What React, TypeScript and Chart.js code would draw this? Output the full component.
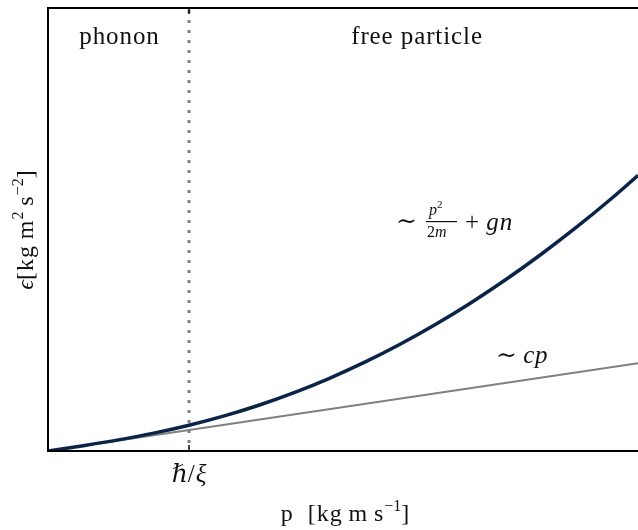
import React, { useEffect, useRef } from 'react';
import { Chart, registerables } from 'chart.js';

Chart.register(...registerables);

// Momentum samples (in units of ħ/ξ) and the Bogoliubov dispersion ε(p)
const momentum = [0, 0.25, 0.5, 0.75, 1.0, 1.25, 1.5, 1.75, 2.0, 2.25, 2.5, 2.75, 3.0, 3.25, 3.5, 3.75, 4.0, 4.184];
const bogoliubovEnergy = [0, 0.254, 0.531, 0.85, 1.227, 1.672, 2.192, 2.793, 3.476, 4.243, 5.097, 6.037, 7.065, 8.18, 9.383, 10.67, 12.05, 13.13];

// Linear phonon branch ε ≈ c p
const phononMomentum = [0, 4.184];
const phononEnergy = [0, 4.184];

// Crossover momentum ħ/ξ
const healingMomentum = 1;
const xTickValues = [1];
const xTickLabels = ['ℏ/ξ'];

const pMax = 4.184;
const epsMax = 21.1;

const SERIF = '"Liberation Serif", "DejaVu Serif", serif';
const roman = (s: number) => `${s}px ${SERIF}`;
const italic = (s: number) => `italic ${s}px ${SERIF}`;
const THIN = '\u2009';

type Run = { text: string; font: string; dy?: number; ls?: number };

function setRun(ctx: any, r: Run) {
  ctx.font = r.font;
  ctx.letterSpacing = `${r.ls || 0}px`;
}

function runsWidth(ctx: CanvasRenderingContext2D, runs: Run[]) {
  let w = 0;
  for (const r of runs) {
    setRun(ctx, r);
    w += ctx.measureText(r.text).width;
  }
  return w;
}

function drawRuns(ctx: CanvasRenderingContext2D, x: number, y: number, runs: Run[], align: 'left' | 'center' = 'left') {
  let cx = align === 'center' ? x - runsWidth(ctx, runs) / 2 : x;
  ctx.textAlign = 'left';
  ctx.textBaseline = 'alphabetic';
  for (const r of runs) {
    setRun(ctx, r);
    ctx.fillText(r.text, cx, y + (r.dy || 0));
    cx += ctx.measureText(r.text).width;
  }
  (ctx as any).letterSpacing = '0px';
}

const decorations = {
  id: 'dispersionDecorations',
  beforeDatasetsDraw(chart: any) {
    const { ctx, chartArea } = chart;
    const xs = chart.scales.x;
    const px = xs.getPixelForValue(healingMomentum);
    ctx.save();
    ctx.strokeStyle = '#7f7f7f';
    ctx.lineWidth = 3;
    ctx.setLineDash([3, 7]);
    ctx.beginPath();
    ctx.moveTo(px, chartArea.top + 2);
    ctx.lineTo(px, chartArea.bottom);
    ctx.stroke();
    ctx.restore();
  },
  afterDraw(chart: any) {
    const { ctx, chartArea } = chart;
    const xs = chart.scales.x;
    const { left, right, top, bottom } = chartArea;
    ctx.save();
    ctx.fillStyle = '#111';

    // axis frame (left, top, bottom)
    ctx.strokeStyle = '#000';
    ctx.lineWidth = 2;
    ctx.beginPath();
    ctx.moveTo(right + 2, top);
    ctx.lineTo(left, top);
    ctx.lineTo(left, bottom);
    ctx.lineTo(right + 2, bottom);
    ctx.stroke();

    // inward ticks and tick labels
    ctx.lineWidth = 1.5;
    xTickValues.forEach((v, i) => {
      const tx = xs.getPixelForValue(v);
      ctx.beginPath();
      ctx.moveTo(tx, bottom);
      ctx.lineTo(tx, bottom - 6);
      ctx.moveTo(tx, top);
      ctx.lineTo(tx, top + 6);
      ctx.stroke();
      const parts = xTickLabels[i].split('/');
      drawRuns(ctx, tx, bottom + 31, [
        { text: parts[0], font: italic(25) },
        { text: '/', font: roman(25), ls: 1 },
        { text: parts[1], font: italic(25) },
      ], 'center');
    });

    // region labels
    drawRuns(ctx, xs.getPixelForValue(0.507), top + 36, [{ text: 'phonon', font: roman(25), ls: 0.9 }], 'center');
    drawRuns(ctx, xs.getPixelForValue(2.617), top + 36, [{ text: 'free particle', font: roman(25), ls: 0.9 }], 'center');

    // ~ p^2/2m + gn
    drawRuns(ctx, 396, 229, [{ text: '∼', font: roman(25) }]);
    drawRuns(ctx, 429, 215, [
      { text: 'p', font: italic(16) },
      { text: '2', font: roman(11), dy: -7 },
    ]);
    ctx.fillRect(426, 221, 31, 1.2);
    drawRuns(ctx, 427, 237, [
      { text: '2', font: roman(16) },
      { text: 'm', font: italic(16), ls: 0.5 },
    ]);
    drawRuns(ctx, 465, 230, [
      { text: '+', font: roman(25) },
      { text: ' gn', font: italic(25), ls: 1 },
    ]);

    // ~ cp
    drawRuns(ctx, 496, 363, [
      { text: '∼ ', font: roman(25) },
      { text: 'cp', font: italic(25), ls: 0.8 },
    ]);

    // x-axis title
    drawRuns(ctx, (left + right) / 2 + 2, 521, [
      { text: `p  [kg${THIN}m${THIN}s`, font: roman(24), ls: 1 },
      { text: '−1', font: roman(16), dy: -10 },
      { text: ']', font: roman(24) },
    ], 'center');

    // y-axis title
    ctx.translate(33, 230);
    ctx.rotate(-Math.PI / 2);
    drawRuns(ctx, 0, 0, [
      { text: 'ϵ', font: italic(24) },
      { text: `[kg${THIN}m`, font: roman(24), ls: 1 },
      { text: '2', font: roman(16), dy: -10 },
      { text: `${THIN}s`, font: roman(24), ls: 1 },
      { text: '−2', font: roman(16), dy: -10 },
      { text: ']', font: roman(24) },
    ], 'center');
    ctx.restore();
  },
};

export default function App() {
  const canvasRef = useRef<HTMLCanvasElement | null>(null);

  useEffect(() => {
    if (!canvasRef.current) return;
    const chart = new Chart(canvasRef.current, {
      type: 'line',
      data: {
        datasets: [
          {
            label: 'ε(p)',
            data: momentum.map((p, i) => ({ x: p, y: bogoliubovEnergy[i] })),
            borderColor: '#0a2448',
            borderWidth: 3.5,
            pointRadius: 0,
            cubicInterpolationMode: 'monotone',
            fill: false,
          },
          {
            label: 'cp',
            data: phononMomentum.map((p, i) => ({ x: p, y: phononEnergy[i] })),
            borderColor: '#808080',
            borderWidth: 2,
            pointRadius: 0,
            fill: false,
          },
        ],
      },
      options: {
        responsive: false,
        animation: false,
        layout: { padding: { left: 48, right: 0, top: 8, bottom: 79 } },
        plugins: { legend: { display: false }, tooltip: { enabled: false } },
        scales: {
          x: { type: 'linear', min: 0, max: pMax, display: false },
          y: { type: 'linear', min: 0, max: epsMax, display: false },
        },
      },
      plugins: [decorations],
    });
    return () => chart.destroy();
  }, []);

  return (
    <div style={{ position: 'fixed', left: 0, top: 0, width: 638, height: 530, background: '#fff' }}>
      <canvas ref={canvasRef} width={638} height={530} />
    </div>
  );
}
